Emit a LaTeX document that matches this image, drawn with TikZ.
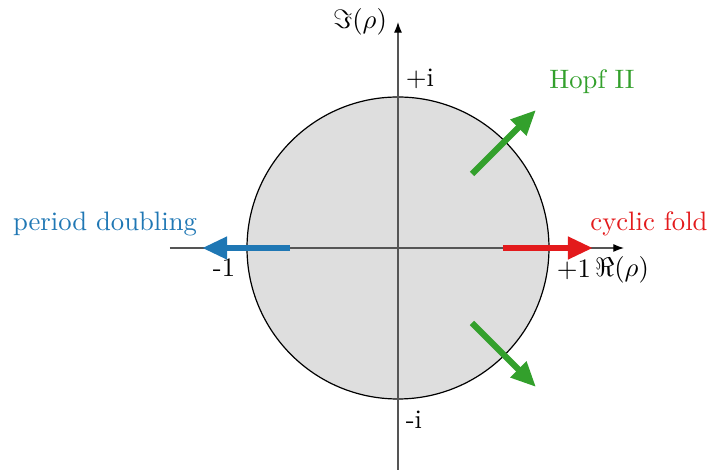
\documentclass[tikz,border=0pt]{standalone}
\usetikzlibrary{arrows.meta}
\definecolor{cblue}{HTML}{1F77B4}
\definecolor{cred}{HTML}{E31A1C}
\definecolor{cgreen}{HTML}{33A02C}
\definecolor{cfill}{HTML}{DEDEDE}
\definecolor{caxis}{HTML}{555555}
\begin{document}
\begin{tikzpicture}[x=0.375pt,y=-0.375pt,
  axisline/.style={draw=caxis,line width=0.45pt,-{Latex[black,length=4pt,width=3pt]}},
  bigarrow/.style={line width=2.3pt,-{Triangle[length=9.4pt,width=8pt]}},
  lbl/.style={inner sep=0pt,font=\normalsize}]
\useasboundingbox (0,0) rectangle (710,470);
\coordinate (O) at (398,248);
\draw[fill=cfill,line width=0.45pt] (O) circle[radius=151];
\coordinate (xs) at (170,248);
\coordinate (xe) at (624,248);
\coordinate (ys) at (398,470);
\coordinate (ye) at (398,22);
\draw[axisline] (xs) -- (xe);
\draw[axisline] (ys) -- (ye);
\node[lbl] (m1) at (224,268) {-1};
\node[lbl] (p1) at (574,270) {+1};
\node[lbl] (re) at (622,270) {$\Re(\rho)$};
\node[lbl] (pi) at (420,79) {+i};
\node[lbl] (mi) at (414,420) {-i};
\node[lbl] (im) at (360,22) {$\Im(\rho)$};
\node[lbl,text=cblue] (pd) at (105,224) {period doubling};
\node[lbl,text=cred] (cf) at (649,224) {cyclic fold};
\node[lbl,text=cgreen] (hopf) at (592,82) {Hopf II};
\coordinate (b1) at (290,248);
\coordinate (b2) at (202,248);
\coordinate (r1) at (503,248);
\coordinate (r2) at (593,248);
\coordinate (g1) at (472,174);
\coordinate (g2) at (536,110);
\coordinate (h1) at (472,323);
\coordinate (h2) at (536,387);
\draw[bigarrow,cblue] (b1) -- (b2);
\draw[bigarrow,cred] (r1) -- (r2);
\draw[bigarrow,cgreen] (g1) -- (g2);
\draw[bigarrow,cgreen] (h1) -- (h2);
\end{tikzpicture}
\end{document}
